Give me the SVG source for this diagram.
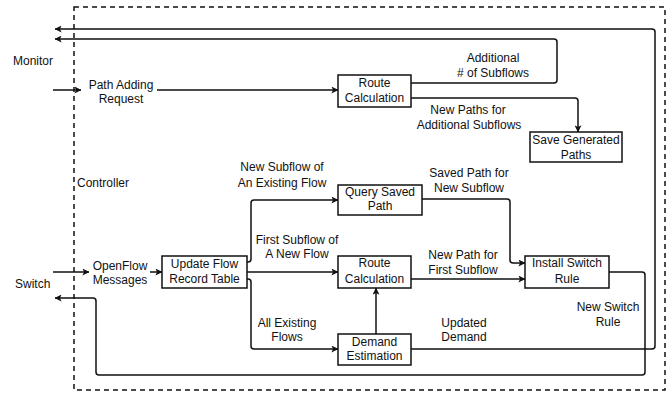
<svg xmlns="http://www.w3.org/2000/svg" width="670" height="394" viewBox="0 0 670 394">
<defs>
<marker id="ah" viewBox="0 0 10 10" refX="9.5" refY="5" markerWidth="7" markerHeight="7" markerUnits="userSpaceOnUse" orient="auto">
<path d="M0,0 L10,5 L0,10 L2.5,5 Z" fill="#111"/>
</marker>
</defs>
<style>
text{font-family:"Liberation Sans",Arial,sans-serif;font-size:12px;fill:#111}
.c{text-anchor:middle}
.box{fill:#fff;stroke:#111;stroke-width:1.5}
.ln{fill:none;stroke:#111;stroke-width:1.5}
.ar{marker-end:url(#ah)}
.dash{fill:none;stroke:#111;stroke-width:1.5;stroke-dasharray:5 4}
</style>
<rect class="dash" x="74" y="7" width="591" height="383"/>
<g id="labels-outside">
<text x="13" y="65">Monitor</text>
<text x="15" y="288">Switch</text>
<text x="77" y="187">Controller</text>
</g>
<g id="connectors">
<path class="ln ar" d="M411,349 H652 Q655,349 655,346 V32 Q655,29 652,29 H55"/>
<path class="ln ar" d="M411,83 H554 Q557,83 557,80 V42 Q557,39 554,39 H55"/>
<path class="ln ar" d="M411,98 H575 Q578,98 578,101 V132"/>
<path class="ln ar" d="M53,90 H81"/>
<path class="ln ar" d="M157,90 H338"/>
<path class="ln ar" d="M53,272 H89"/>
<path class="ln ar" d="M150,272 H162"/>
<path class="ln ar" d="M247,262 H248 Q251,262 251,259 V203 Q251,200 254,200 H338"/>
<path class="ln ar" d="M247,272 H338"/>
<path class="ln ar" d="M247,279 H248 Q251,279 251,282 V346 Q251,349 254,349 H338"/>
<path class="ln ar" d="M376,334 V288"/>
<path class="ln ar" d="M422,199 H507 Q510,199 510,202 V260 Q510,263 513,263 H525"/>
<path class="ln ar" d="M411,279 H525"/>
<path class="ln ar" d="M609,272 H642 Q645,272 645,275 V372 Q645,375 642,375 H99 Q96,375 96,372 V301 Q96,298 93,298 H55"/>
<text class="c" x="493" y="62">Additional</text>
<text class="c" x="493" y="77"># of Subflows</text>
<text class="c" x="468" y="114">New Paths for</text>
<text class="c" x="469" y="129">Additional Subflows</text>
<text class="c" x="282" y="171">New Subflow of</text>
<text class="c" x="282" y="187">An Existing Flow</text>
<text class="c" x="469" y="177">Saved Path for</text>
<text class="c" x="469" y="192">New Subflow</text>
<text class="c" x="297" y="244">First Subflow of</text>
<text class="c" x="297" y="258">A New Flow</text>
<text class="c" x="463" y="259">New Path for</text>
<text class="c" x="463" y="274">First Subflow</text>
<text class="c" x="287" y="327">All Existing</text>
<text class="c" x="287" y="341">Flows</text>
<text class="c" x="464" y="327">Updated</text>
<text class="c" x="464" y="341">Demand</text>
<text class="c" x="608" y="311">New Switch</text>
<text class="c" x="608" y="326">Rule</text>
</g>
<g id="path-adding-request">
<text class="c" x="121" y="89">Path Adding</text>
<text class="c" x="121" y="103">Request</text>
</g>
<g id="openflow-messages">
<text class="c" x="120" y="270">OpenFlow</text>
<text class="c" x="120" y="284">Messages</text>
</g>
<g id="route-calc-1">
<rect class="box" x="338" y="75" width="73" height="32"/>
<text class="c" x="374.5" y="87">Route</text>
<text class="c" x="374.5" y="102">Calculation</text>
</g>
<g id="save-generated-paths">
<rect class="box" x="530" y="132" width="92" height="30"/>
<text class="c" x="576" y="144">Save Generated</text>
<text class="c" x="576" y="159">Paths</text>
</g>
<g id="query-saved-path">
<rect class="box" x="338" y="185" width="84" height="30"/>
<text class="c" x="380" y="196">Query Saved</text>
<text class="c" x="380" y="210">Path</text>
</g>
<g id="update-flow-record-table">
<rect class="box" x="162" y="256" width="85" height="32"/>
<text class="c" x="204.5" y="268">Update Flow</text>
<text class="c" x="204.5" y="283">Record Table</text>
</g>
<g id="route-calc-2">
<rect class="box" x="338" y="256" width="73" height="32"/>
<text class="c" x="374.5" y="267">Route</text>
<text class="c" x="374.5" y="283">Calculation</text>
</g>
<g id="install-switch-rule">
<rect class="box" x="525" y="256" width="84" height="32"/>
<text class="c" x="567" y="267">Install Switch</text>
<text class="c" x="567" y="283">Rule</text>
</g>
<g id="demand-estimation">
<rect class="box" x="338" y="334" width="73" height="31"/>
<text class="c" x="374.5" y="346">Demand</text>
<text class="c" x="374.5" y="360">Estimation</text>
</g>
</svg>
